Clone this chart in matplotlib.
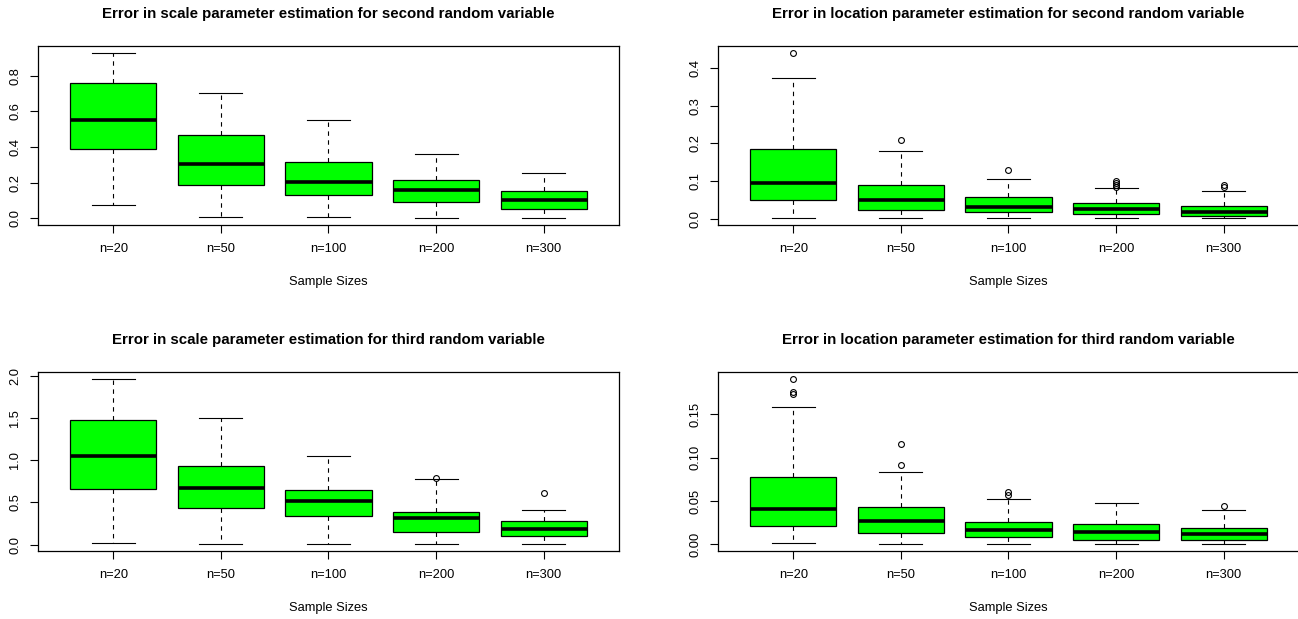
import matplotlib
matplotlib.use("Agg")
import matplotlib.pyplot as plt

plt.rcParams['font.family'] = ['Liberation Sans', 'DejaVu Sans']

sizes = ["n=20", "n=50", "n=100", "n=200", "n=300"]

# Panel 1: scale parameter, second random variable
scale2_lo = [0.075, 0.007, 0.007, 0.000, 0.004]
scale2_q1 = [0.389, 0.187, 0.133, 0.092, 0.054]
scale2_med = [0.551, 0.307, 0.206, 0.157, 0.105]
scale2_q3 = [0.758, 0.465, 0.314, 0.217, 0.153]
scale2_hi = [0.929, 0.701, 0.553, 0.361, 0.254]
scale2_out = [[], [], [], [], []]

# Panel 2: location parameter, second random variable
loc2_lo = [0.001, 0.001, 0.001, 0.001, 0.001]
loc2_q1 = [0.049, 0.023, 0.019, 0.013, 0.008]
loc2_med = [0.094, 0.049, 0.031, 0.027, 0.017]
loc2_q3 = [0.185, 0.089, 0.057, 0.041, 0.035]
loc2_hi = [0.374, 0.179, 0.106, 0.082, 0.073]
loc2_out = [[0.441], [0.208], [0.130], [0.085, 0.090, 0.095, 0.100], [0.084, 0.089]]

# Panel 3: scale parameter, third random variable
scale3_lo = [0.019, 0.007, 0.007, 0.007, 0.004]
scale3_q1 = [0.653, 0.435, 0.340, 0.146, 0.102]
scale3_med = [1.045, 0.673, 0.515, 0.316, 0.190]
scale3_q3 = [1.469, 0.927, 0.649, 0.392, 0.277]
scale3_hi = [1.964, 1.500, 1.053, 0.772, 0.411]
scale3_out = [[], [], [], [0.784], [0.610]]

# Panel 4: location parameter, third random variable
loc3_lo = [0.0012, 0.0004, 0.0000, 0.0000, 0.0000]
loc3_q1 = [0.0208, 0.0135, 0.0085, 0.0054, 0.0046]
loc3_med = [0.0413, 0.0274, 0.0162, 0.0139, 0.0116]
loc3_q3 = [0.0779, 0.0428, 0.0262, 0.0231, 0.0189]
loc3_hi = [0.1585, 0.0830, 0.0520, 0.0478, 0.0401]
loc3_out = [[0.1735, 0.1755, 0.191], [0.0914, 0.1157], [0.0567, 0.0605], [], [0.0443]]

titles = [
    "Error in scale parameter estimation for second random variable",
    "Error in location parameter estimation for second random variable",
    "Error in scale parameter estimation for third random variable",
    "Error in location parameter estimation for third random variable",
]
yticks = [
    [0.0, 0.2, 0.4, 0.6, 0.8],
    [0.0, 0.1, 0.2, 0.3, 0.4],
    [0.0, 0.5, 1.0, 1.5, 2.0],
    [0.00, 0.05, 0.10, 0.15],
]
ytick_labels = [
    ["0.0", "0.2", "0.4", "0.6", "0.8"],
    ["0.0", "0.1", "0.2", "0.3", "0.4"],
    ["0.0", "0.5", "1.0", "1.5", "2.0"],
    ["0.00", "0.05", "0.10", "0.15"],
]
xlabel = "Sample Sizes"

panels = [
    (scale2_lo, scale2_q1, scale2_med, scale2_q3, scale2_hi, scale2_out),
    (loc2_lo, loc2_q1, loc2_med, loc2_q3, loc2_hi, loc2_out),
    (scale3_lo, scale3_q1, scale3_med, scale3_q3, scale3_hi, scale3_out),
    (loc3_lo, loc3_q1, loc3_med, loc3_q3, loc3_hi, loc3_out),
]

W, H = 1298, 619
fig = plt.figure(figsize=(W / 100, H / 100), dpi=100)

lefts = [38, 718, 38, 718]
tops = [46, 46, 372, 372]
aw, ah = 581, 179
title_y = [14, 14, 340, 340]
xlab_y = [282, 282, 608, 608]

fs = 9.3
for i, (lo, q1, med, q3, hi, out) in enumerate(panels):
    ax = fig.add_axes([lefts[i] / W, 1 - (tops[i] + ah) / H, aw / W, ah / H])
    stats = []
    for k in range(len(sizes)):
        stats.append(dict(whislo=lo[k], q1=q1[k], med=med[k], q3=q3[k],
                          whishi=hi[k], fliers=out[k], label=sizes[k]))
    pos = list(range(1, len(sizes) + 1))
    ax.bxp(stats, positions=pos, widths=0.8, capwidths=0.4, patch_artist=True,
           showfliers=True,
           boxprops=dict(facecolor='#00ff00', edgecolor='black', linewidth=0.9),
           medianprops=dict(color='black', linewidth=2.6, solid_capstyle='butt'),
           whiskerprops=dict(color='black', linewidth=0.8, linestyle=(0, (4, 4))),
           capprops=dict(color='black', linewidth=0.8),
           flierprops=dict(marker='o', markersize=4.2, markerfacecolor='none',
                           markeredgecolor='black', markeredgewidth=0.8, linestyle='none'))
    allv = list(lo) + list(hi) + [v for o in out for v in o]
    vmin, vmax = min(allv), max(allv)
    pad = 0.04 * (vmax - vmin)
    ax.set_ylim(vmin - pad, vmax + pad)
    ax.set_xlim(0.3, len(sizes) + 0.7)
    ax.set_xticks(pos)
    ax.set_xticklabels(sizes, fontsize=fs)
    ax.set_yticks(yticks[i])
    ax.set_yticklabels(ytick_labels[i], fontsize=fs, rotation=90, va='center')
    ax.tick_params(axis='both', direction='out', length=5.5, width=0.8, color='black')
    ax.tick_params(axis='x', pad=7.5)
    ax.tick_params(axis='y', pad=6.5)
    for s in ax.spines.values():
        s.set_linewidth(0.9)
        s.set_color('black')
    cx = (lefts[i] + aw / 2) / W
    fig.text(cx, 1 - title_y[i] / H, titles[i], ha='center', va='center',
             fontsize=10.8, fontweight='bold')
    fig.text(cx, 1 - xlab_y[i] / H, xlabel, ha='center', va='center', fontsize=fs)

fig.savefig("out.png", dpi=100)
